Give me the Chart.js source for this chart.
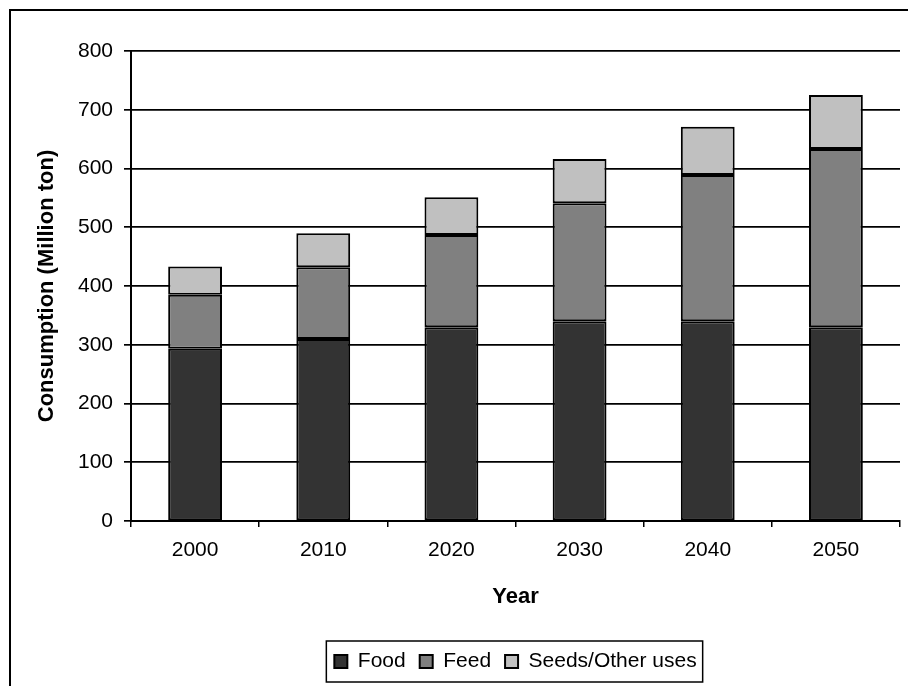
<!DOCTYPE html>
<html lang="en">
<head>
    <meta charset="UTF-8">
    <title>Consumption by Use</title>
    <script src="https://cdn.jsdelivr.net/npm/chart.js"></script>
    <style>
        body {
            margin: 0;
            padding: 0;
            background-color: #ffffff;
        }
        #wrap {
            width: 908px;
            height: 686px;
        }
    </style>
</head>
<body>
    <div id="wrap"><canvas id="chartConsumption"></canvas></div>

    <script>
        const years = ["2000", "2010", "2020", "2030", "2040", "2050"];
        const food = [293, 310, 330, 340, 340, 330];
        const feed = [92, 122, 157, 201, 249, 303];
        const seedsOther = [48, 58, 64, 75, 82, 92];
        const seriesNames = ["Food", "Feed", "Seeds/Other uses"];
        const seriesColors = ["#333333", "#808080", "#c0c0c0"];

        const baseFont = { family: "Arial, 'Liberation Sans', sans-serif", size: 21 };
        const titleFont = { family: "Arial, 'Liberation Sans', sans-serif", size: 22, weight: 'bold' };

        // outer frame plus a box round the legend
        const framePlugin = {
            id: 'frame',
            beforeDraw(chart) {
                const ctx = chart.ctx;
                ctx.save();
                ctx.fillStyle = '#ffffff';
                ctx.fillRect(0, 0, chart.width, chart.height);
                ctx.strokeStyle = '#000000';
                ctx.lineWidth = 2;
                ctx.strokeRect(10, 10, chart.width + 20, chart.height + 20);
                ctx.restore();
            },
            afterDraw(chart) {
                const boxes = chart.legend.legendHitBoxes;
                if (!boxes || !boxes.length) return;
                const left = Math.min(...boxes.map(b => b.left)) - 8;
                const right = Math.max(...boxes.map(b => b.left + b.width)) + 6;
                const top = Math.min(...boxes.map(b => b.top)) - 10;
                const bottom = Math.max(...boxes.map(b => b.top + b.height)) + 10;
                const ctx = chart.ctx;
                ctx.save();
                ctx.strokeStyle = '#000000';
                ctx.lineWidth = 1.5;
                ctx.strokeRect(left, top, right - left, bottom - top);
                ctx.restore();
            }
        };

        const barStyle = {
            borderColor: '#000000',
            borderWidth: 2,
            borderSkipped: false,
            barPercentage: 0.42,
            categoryPercentage: 1.0
        };

        new Chart(document.getElementById('chartConsumption'), {
            type: 'bar',
            data: {
                labels: years,
                datasets: [
                    { label: seriesNames[0], data: food, backgroundColor: seriesColors[0], ...barStyle },
                    { label: seriesNames[1], data: feed, backgroundColor: seriesColors[1], ...barStyle },
                    { label: seriesNames[2], data: seedsOther, backgroundColor: seriesColors[2], ...barStyle }
                ]
            },
            options: {
                responsive: true,
                maintainAspectRatio: false,
                animation: false,
                layout: { padding: { top: 51, right: 8, left: 0, bottom: 4 } },
                scales: {
                    x: {
                        stacked: true,
                        afterFit(scale) { scale.height = 116; },
                        border: { color: '#000000', width: 2 },
                        grid: { drawOnChartArea: false, color: '#000000', lineWidth: 1.5, tickLength: 6 },
                        ticks: { color: '#000000', font: baseFont, padding: 11 },
                        title: {
                            display: true,
                            text: 'Year',
                            color: '#000000',
                            font: titleFont,
                            padding: { top: 0, bottom: 27 }
                        }
                    },
                    y: {
                        stacked: true,
                        min: 0,
                        max: 800,
                        afterFit(scale) { scale.width = 131; },
                        border: { color: '#000000', width: 2 },
                        grid: { color: '#000000', lineWidth: 1.7, tickLength: 7 },
                        ticks: { stepSize: 100, color: '#000000', font: baseFont, padding: 11 },
                        title: {
                            display: true,
                            text: 'Consumption (Million ton)',
                            color: '#000000',
                            font: titleFont,
                            padding: { top: 34, bottom: 0 }
                        }
                    }
                },
                plugins: {
                    legend: {
                        position: 'bottom',
                        fullSize: false,
                        labels: {
                            color: '#000000',
                            font: baseFont,
                            boxWidth: 13,
                            boxHeight: 13,
                            padding: 14,
                            useBorderRadius: false
                        }
                    },
                    tooltip: { enabled: false }
                }
            },
            plugins: [framePlugin]
        });
    </script>
</body>
</html>
